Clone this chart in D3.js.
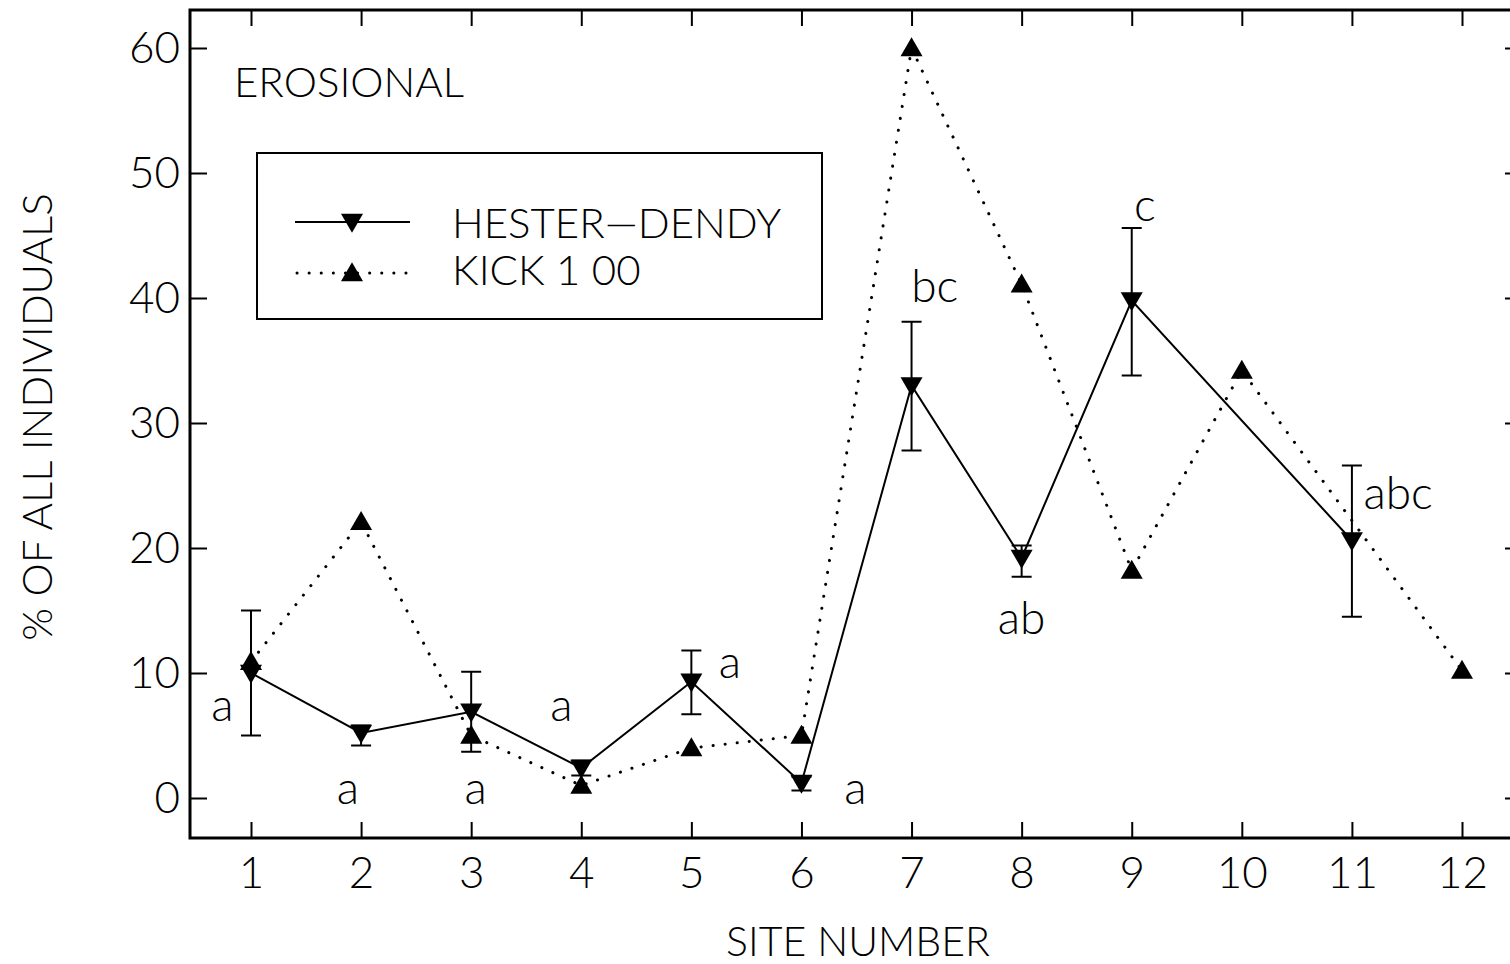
<!DOCTYPE html>
<html>
<head>
  <meta charset="utf-8">
  <style>
    html, body { margin: 0; overflow: hidden; background: #fff; }
    svg { display: block; }
    text { font-family: "Lato", "DejaVu Sans", sans-serif; font-weight: 300; fill: #000; }
    .axis path.domain { display: none; }
    .axis line { stroke: #000; stroke-width: 2px; }
    .axis text { font-size: 44px; }
  </style>
  <script src="https://cdn.jsdelivr.net/npm/d3@7"></script>
</head>
<body>
  <svg id="svg" width="1510" height="964"></svg>
  <script>
    // sites on the x axis
    var sites = [1, 2, 3, 4, 5, 6, 7, 8, 9, 10, 11, 12];
    var yTicks = [0, 10, 20, 30, 40, 50, 60];

    // Hester-Dendy: mean with error bar low / high
    var hdSites = [1, 2, 3, 4, 5, 6, 7, 8, 9, 11];
    var hdMean  = [10, 5.2, 6.9, 2.4, 9.3, 1.2, 33, 19.2, 39.8, 20.6];
    var hdLow   = [5.0, 4.2, 3.7, 1.8, 6.7, 0.6, 27.8, 17.7, 33.8, 14.5];
    var hdHigh  = [15.0, 5.8, 10.1, 3.0, 11.8, 1.7, 38.1, 20.2, 45.6, 26.6];

    // Kick 100
    var kickSites = [1, 2, 3, 4, 5, 6, 7, 8, 9, 10, 12];
    var kickVals  = [10.9, 22.1, 5.0, 1.0, 4.0, 5.0, 60, 41.1, 18.2, 34.2, 10.2];

    // letter groups: label, site, value of the text baseline
    var grpText = ["a", "a", "a", "a", "a", "a", "bc", "ab", "c", "abc"];
    var grpSite = [0.74, 1.88, 3.04, 3.82, 5.35, 6.49, 7.21, 8.0, 9.12, 11.42];
    var grpVal  = [6.2, -0.5, -0.5, 6.2, 9.6, -0.5, 39.7, 13.1, 46.2, 23.1];

    var svg = d3.select("#svg");

    var frame = {left: 190, right: 1522, top: 10, bottom: 838};

    var x = d3.scaleLinear().domain([1, 12]).range([251, 1462]);
    var y = d3.scaleLinear().domain([0, 60]).range([798, 48]);

    // axes, ticks point inward on all four sides
    svg.append("g").attr("class", "axis")
      .attr("transform", "translate(0," + frame.bottom + ")")
      .call(d3.axisBottom(x).tickValues(sites).tickSize(-16).tickPadding(19));
    svg.append("g").attr("class", "axis")
      .attr("transform", "translate(0," + frame.top + ")")
      .call(d3.axisTop(x).tickValues(sites).tickSize(-16).tickFormat(""));
    svg.append("g").attr("class", "axis")
      .attr("transform", "translate(" + frame.left + ",0)")
      .call(d3.axisLeft(y).tickValues(yTicks).tickSize(-17).tickPadding(10));
    svg.append("g").attr("class", "axis")
      .attr("transform", "translate(" + frame.right + ",0)")
      .call(d3.axisRight(y).tickValues(yTicks).tickSize(-17).tickFormat(""));

    svg.append("rect")
      .attr("x", frame.left).attr("y", frame.top)
      .attr("width", frame.right - frame.left)
      .attr("height", frame.bottom - frame.top)
      .style("fill", "none").style("stroke", "#000").style("stroke-width", 3);

    // axis titles
    svg.append("text")
      .attr("x", 858).attr("y", 956)
      .attr("text-anchor", "middle")
      .style("font-size", "41px")
      .text("SITE NUMBER");
    svg.append("text")
      .attr("transform", "translate(52,417) rotate(-90)")
      .attr("text-anchor", "middle")
      .style("font-size", "42px")
      .text("% OF ALL INDIVIDUALS");

    svg.append("text")
      .attr("x", 234).attr("y", 97)
      .style("font-size", "42px")
      .text("EROSIONAL");

    // lines
    var line = d3.line().x(function(d){ return x(d[0]); }).y(function(d){ return y(d[1]); });

    svg.append("path")
      .datum(kickSites.map(function(s, i){ return [s, kickVals[i]]; }))
      .attr("d", line)
      .style("fill", "none").style("stroke", "#000").style("stroke-width", 3)
      .style("stroke-linecap", "round").style("stroke-dasharray", "0.1,12");

    svg.append("path")
      .datum(hdSites.map(function(s, i){ return [s, hdMean[i]]; }))
      .attr("d", line)
      .style("fill", "none").style("stroke", "#000").style("stroke-width", 2);

    // error bars
    var eb = svg.append("g").style("stroke", "#000").style("stroke-width", 2);
    hdSites.forEach(function(s, i){
      var cx = x(s);
      eb.append("line").attr("x1", cx).attr("x2", cx).attr("y1", y(hdLow[i])).attr("y2", y(hdHigh[i]));
      eb.append("line").attr("x1", cx - 10).attr("x2", cx + 10).attr("y1", y(hdLow[i])).attr("y2", y(hdLow[i]));
      eb.append("line").attr("x1", cx - 10).attr("x2", cx + 10).attr("y1", y(hdHigh[i])).attr("y2", y(hdHigh[i]));
    });

    var tri = d3.symbol().type(d3.symbolTriangle).size(210);

    svg.append("g").selectAll("path")
      .data(kickSites.map(function(s, i){ return [s, kickVals[i]]; }))
      .enter().append("path")
      .attr("d", tri)
      .attr("transform", function(d){ return "translate(" + x(d[0]) + "," + (y(d[1]) + 2) + ")"; })
      .style("fill", "#000");

    svg.append("g").selectAll("path")
      .data(hdSites.map(function(s, i){ return [s, hdMean[i]]; }))
      .enter().append("path")
      .attr("d", tri)
      .attr("transform", function(d){ return "translate(" + x(d[0]) + "," + (y(d[1]) - 2) + ") rotate(180)"; })
      .style("fill", "#000");

    // group letters
    svg.append("g").selectAll("text")
      .data(grpText)
      .enter().append("text")
      .attr("x", function(d, i){ return x(grpSite[i]); })
      .attr("y", function(d, i){ return y(grpVal[i]); })
      .attr("text-anchor", "middle")
      .style("font-size", "46px")
      .text(function(d){ return d; });

    // legend
    var leg = svg.append("g");
    leg.append("rect")
      .attr("x", 257).attr("y", 153).attr("width", 565).attr("height", 166)
      .style("fill", "none").style("stroke", "#000").style("stroke-width", 2);
    leg.append("line").attr("x1", 295).attr("x2", 410).attr("y1", 222).attr("y2", 222)
      .style("stroke", "#000").style("stroke-width", 2);
    leg.append("path").attr("d", tri).attr("transform", "translate(352,220) rotate(180)");
    leg.append("line").attr("x1", 297).attr("x2", 410).attr("y1", 273).attr("y2", 273)
      .style("stroke", "#000").style("stroke-width", 3)
      .style("stroke-linecap", "round").style("stroke-dasharray", "0.1,12");
    leg.append("path").attr("d", tri).attr("transform", "translate(352,275)");
    leg.append("text").attr("x", 452).attr("y", 238).style("font-size", "42px").text("HESTER\u2014DENDY");
    leg.append("text").attr("x", 452).attr("y", 285).style("font-size", "42px").text("KICK 1 00");
  </script>
</body>
</html>
